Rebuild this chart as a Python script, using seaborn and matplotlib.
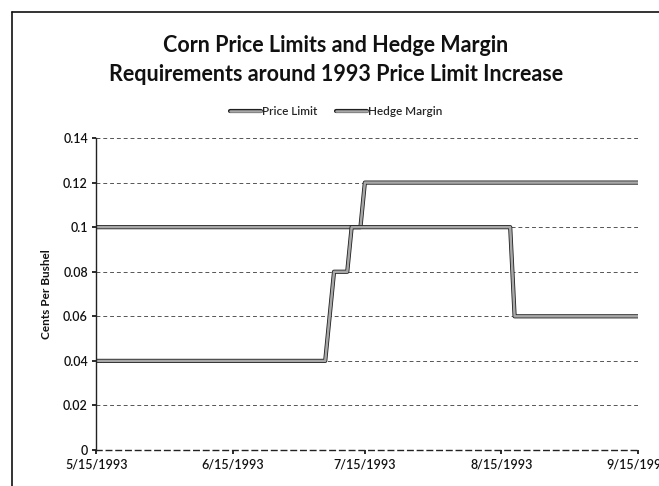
import numpy as np
import pandas as pd
import matplotlib.pyplot as plt
import matplotlib.patheffects as pe
from matplotlib.lines import Line2D
import seaborn as sns

# values (dollars per bushel, despite the axis title)
limit_dates = ["1993-05-15", "1993-07-14", "1993-07-15", "1993-09-15"]
limit_values = [0.10, 0.10, 0.12, 0.12]

margin_dates = ["1993-05-15", "1993-07-06", "1993-07-08", "1993-07-11",
                "1993-07-12", "1993-08-17", "1993-08-18", "1993-09-15"]
margin_values = [0.04, 0.04, 0.08, 0.08, 0.10, 0.10, 0.06, 0.06]

series_names = ["Price Limit", "Hedge Margin"]
tick_dates = ["1993-05-15", "1993-06-15", "1993-07-15", "1993-08-15", "1993-09-15"]
tick_labels = ["5/15/1993", "6/15/1993", "7/15/1993", "8/15/1993", "9/15/1993"]
y_ticks = [0, 0.02, 0.04, 0.06, 0.08, 0.10, 0.12, 0.14]
y_labels = ["0", "0.02", "0.04", "0.06", "0.08", "0.1", "0.12", "0.14"]

df = pd.concat([
    pd.DataFrame({"Date": pd.to_datetime(limit_dates), "Value": limit_values,
                  "Series": series_names[0]}),
    pd.DataFrame({"Date": pd.to_datetime(margin_dates), "Value": margin_values,
                  "Series": series_names[1]}),
], ignore_index=True)

sns.set_theme(style="white")
plt.rcParams["font.family"] = ["Lato", "DejaVu Sans"]

fig = plt.figure(figsize=(6.59, 4.86), dpi=100)
ax = fig.add_axes([0.146, 0.074, 0.822, 0.642])

line_color = "#a8a8a8"
sns.lineplot(
    data=df, x="Date", y="Value", hue="Series",
    palette={series_names[0]: line_color, series_names[1]: line_color},
    linewidth=1.8, ax=ax, legend=False,
)
outline = [pe.Stroke(linewidth=3.0, foreground="#202020"), pe.Normal()]
for ln in ax.lines:
    ln.set_path_effects(outline)

ax.set_xlim(pd.Timestamp("1993-05-15"), pd.Timestamp("1993-09-15"))
ax.set_ylim(0, 0.14)
ax.set_xticks(pd.to_datetime(tick_dates))
ax.set_xticklabels(tick_labels)
ax.set_yticks(y_ticks)
ax.set_yticklabels(y_labels)
ax.tick_params(axis="both", labelsize=9, colors="#111111", length=3,
               direction="out", bottom=True, left=True, pad=3)
for lab in ax.get_xticklabels() + ax.get_yticklabels():
    lab.set_fontweight("semibold")

ax.grid(axis="y", color="#555555", linestyle=(0, (4, 3)), linewidth=0.7)
ax.grid(axis="x", visible=False)
for side in ["top", "right"]:
    ax.spines[side].set_visible(False)
for side in ["left", "bottom"]:
    ax.spines[side].set_color("#222222")
    ax.spines[side].set_linewidth(1.0)
ax.spines["bottom"].set_linestyle((0, (4, 3)))

ax.set_xlabel("")
ax.set_ylabel("Cents Per Bushel", fontsize=8.5, fontweight="bold", color="#111111",
              labelpad=8)

# legend across the top
handles = [Line2D([0], [0], color=line_color, linewidth=1.8, path_effects=outline)
           for _ in series_names]
fig.legend(handles, series_names, loc="center", bbox_to_anchor=(0.51, 0.77),
           ncol=2, frameon=False, fontsize=8.5, handlelength=2.6,
           handletextpad=0.1, columnspacing=1.6,
           prop={"weight": "semibold", "size": 8.5})

fig.text(0.51, 0.876,
         "Corn Price Limits and Hedge Margin\nRequirements around 1993 Price Limit Increase",
         ha="center", va="center", fontsize=15.5, fontweight="bold",
         color="#111111", linespacing=1.45)

# chart area border (left and top edges visible in the scan)
fig.add_artist(Line2D([12 / 659, 12 / 659], [0, 1 - 12 / 486], color="#111111",
                      linewidth=1.2, transform=fig.transFigure))
fig.add_artist(Line2D([12 / 659, 1], [1 - 12 / 486, 1 - 12 / 486], color="#111111",
                      linewidth=1.2, transform=fig.transFigure))

fig.savefig("out.png", dpi=100)
